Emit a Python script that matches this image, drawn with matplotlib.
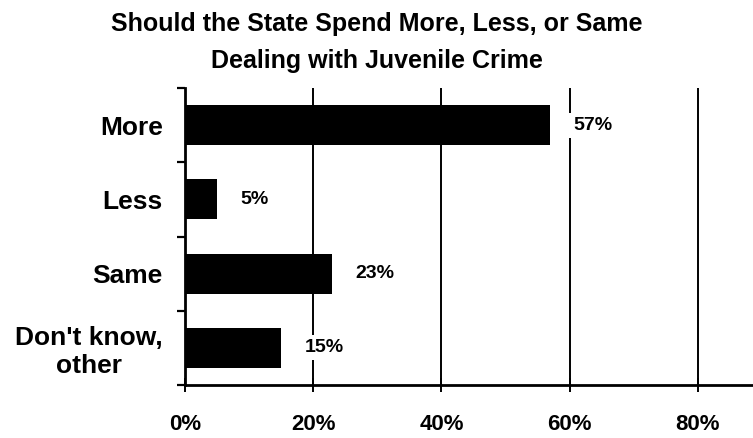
import numpy as np
import matplotlib.pyplot as plt

# survey answers, top to bottom
categories = ["More", "Less", "Same", "Don't know,\nother"]
percents = [57, 5, 23, 15]
xticks = [0, 20, 40, 60, 80]
xticklabels = ["0%", "20%", "40%", "60%", "80%"]
title_lines = ["Should the State Spend More, Less, or Same",
               "Dealing with Juvenile Crime"]

plt.rcParams['font.family'] = ['Liberation Sans', 'DejaVu Sans']
plt.rcParams['font.weight'] = 'bold'

fig = plt.figure(figsize=(7.53, 4.38), dpi=100)
ax = fig.add_axes([0.2457, 0.121, 0.7543, 0.678])

ypos = np.arange(len(categories))
ax.barh(ypos, percents, height=0.54, color='black', zorder=3)

# vertical grid lines
for x in xticks[1:]:
    ax.axvline(x, color='black', lw=1.4, zorder=1)

for y, v in zip(ypos, percents):
    ax.text(v + 3.6, y, f"{v}%", va='center', ha='left', fontsize=14,
            fontweight='bold', zorder=4,
            bbox=dict(facecolor='white', edgecolor='none', pad=3))

ax.set_xlim(0, 88.6)
ax.set_ylim(len(categories) - 0.5, -0.5)

ax.set_xticks(xticks)
ax.set_xticklabels(xticklabels, fontsize=16, fontweight='bold')
ax.tick_params(axis='x', direction='inout', length=10, width=1.4, pad=16)

ax.set_yticks(ypos)
ax.set_yticklabels(categories, fontsize=19, fontweight='bold',
                   multialignment='center')
ax.tick_params(axis='y', which='major', length=0, pad=16)
ax.set_yticks(np.arange(-0.5, len(categories)), minor=True)
ax.tick_params(axis='y', which='minor', direction='out', length=6, width=1.6)

for s in ['top', 'right']:
    ax.spines[s].set_visible(False)
ax.spines['left'].set_linewidth(2)
ax.spines['bottom'].set_linewidth(2)

fig.text(0.5, 1 - 24 / 438, title_lines[0], ha='center', va='center',
         fontsize=18, fontweight='bold')
fig.text(0.5, 1 - 61 / 438, title_lines[1], ha='center', va='center',
         fontsize=18, fontweight='bold')

fig.savefig("out.png", dpi=100)
